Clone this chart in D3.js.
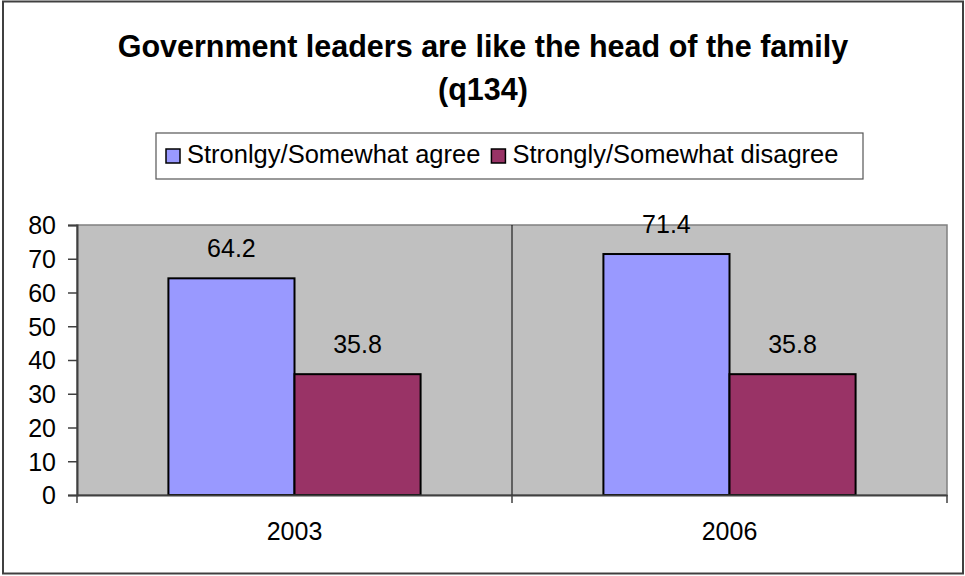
<!DOCTYPE html>
<html>
<head>
<meta charset="utf-8">
<script src="https://cdn.jsdelivr.net/npm/d3@7"></script>
<style>
  html, body { margin: 0; padding: 0; background: #fff; }
  svg { display: block; font-family: "Liberation Sans", Arial, sans-serif; }
</style>
</head>
<body>
<svg id="chart" width="965" height="576"></svg>
<script>
// Survey results, question q134
const titleLines = ["Government leaders are like the head of the family", "(q134)"];
const years = ["2003", "2006"];
const seriesNames = ["Stronlgy/Somewhat agree", "Strongly/Somewhat disagree"];
const agreeValues = [64.2, 71.4];
const disagreeValues = [35.8, 35.8];
const yTicks = [0, 10, 20, 30, 40, 50, 60, 70, 80];
const seriesColors = ["#9999FF", "#993366"];

const FONT = "Liberation Sans, Arial, sans-serif";
const svg = d3.select("#chart");

// outer chart frame
svg.append("rect")
  .attr("x", 3).attr("y", 1.5).attr("width", 960).attr("height", 572)
  .attr("fill", "#fff").attr("stroke", "#404040").attr("stroke-width", 2);

// title
svg.append("g").selectAll("text").data(titleLines).join("text")
  .attr("x", 483).attr("y", (d, i) => 57 + i * 43)
  .attr("text-anchor", "middle")
  .attr("font-size", 30.5).attr("font-weight", "bold")
  .text(d => d);

// plot area
const plot = { left: 77, right: 947, top: 225, bottom: 495 };
const x0 = d3.scaleBand().domain(years).range([plot.left, plot.right]).padding(0);
const bw = x0.bandwidth() / (2 + 1.45);
const x1 = d3.scaleBand().domain(d3.range(seriesNames.length))
  .range([x0.bandwidth() / 2 - bw, x0.bandwidth() / 2 + bw]).padding(0);
const y = d3.scaleLinear().domain([0, 80]).range([plot.bottom, plot.top]);

svg.append("rect")
  .attr("x", plot.left).attr("y", plot.top)
  .attr("width", plot.right - plot.left).attr("height", plot.bottom - plot.top)
  .attr("fill", "#C0C0C0").attr("stroke", "#808080").attr("stroke-width", 1.5);

// divider between categories
svg.append("g").selectAll("line").data(years.slice(1)).join("line")
  .attr("x1", d => x0(d)).attr("x2", d => x0(d))
  .attr("y1", plot.top).attr("y2", plot.bottom)
  .attr("stroke", "#000").attr("stroke-width", 1);

// bars
const rows = years.map((yr, i) => ({ year: yr, values: [agreeValues[i], disagreeValues[i]] }));
const groups = svg.append("g").selectAll("g").data(rows).join("g")
  .attr("transform", d => `translate(${x0(d.year)},0)`);

groups.selectAll("rect").data(d => d.values.map((v, k) => ({ v, k }))).join("rect")
  .attr("x", d => x1(d.k)).attr("width", x1.bandwidth())
  .attr("y", d => y(d.v)).attr("height", d => y(0) - y(d.v))
  .attr("fill", d => seriesColors[d.k])
  .attr("stroke", "#000").attr("stroke-width", 2);

groups.selectAll("text").data(d => d.values.map((v, k) => ({ v, k }))).join("text")
  .attr("x", d => x1(d.k) + x1.bandwidth() / 2)
  .attr("y", d => y(d.v) - 21)
  .attr("text-anchor", "middle").attr("font-size", 25)
  .text(d => d3.format(".1f")(d.v));

// y axis
const yAxis = svg.append("g")
  .attr("transform", `translate(${plot.left},0)`)
  .call(d3.axisLeft(y).tickValues(yTicks).tickSize(9).tickPadding(12).tickFormat(d3.format("d")));
yAxis.select(".domain").attr("stroke", "#404040").attr("stroke-width", 2);
yAxis.selectAll(".tick line").attr("stroke", "#404040").attr("stroke-width", 1.5);
yAxis.selectAll(".tick text").attr("font-size", 25).attr("font-family", FONT)
  .attr("fill", "#000").attr("dy", "0.35em");

// x axis
const xAxis = svg.append("g")
  .attr("transform", `translate(0,${plot.bottom})`)
  .call(d3.axisBottom(x0).tickSize(0).tickPadding(27));
xAxis.select(".domain").attr("stroke", "#404040").attr("stroke-width", 2);
xAxis.selectAll(".tick text").attr("font-size", 25).attr("font-family", FONT)
  .attr("fill", "#000");
// category boundary ticks
const bounds = years.map(d => x0(d)).concat([plot.right]);
xAxis.append("g").selectAll("line").data(bounds).join("line")
  .attr("x1", d => d).attr("x2", d => d).attr("y1", 0).attr("y2", 8)
  .attr("stroke", "#404040").attr("stroke-width", 1.5);

// legend
const legend = svg.append("g");
legend.append("rect")
  .attr("x", 156).attr("y", 133).attr("width", 707).attr("height", 46)
  .attr("fill", "#fff").attr("stroke", "#555").attr("stroke-width", 1.2);
let lx = 166;
seriesNames.forEach((name, k) => {
  legend.append("rect")
    .attr("x", lx).attr("y", 149).attr("width", 14).attr("height", 14)
    .attr("fill", seriesColors[k]).attr("stroke", "#000").attr("stroke-width", 1.5);
  const t = legend.append("text")
    .attr("x", lx + 21).attr("y", 163).attr("font-size", 25.5).text(name);
  lx += 21 + t.node().getComputedTextLength() + 11;
});
</script>
</body>
</html>
